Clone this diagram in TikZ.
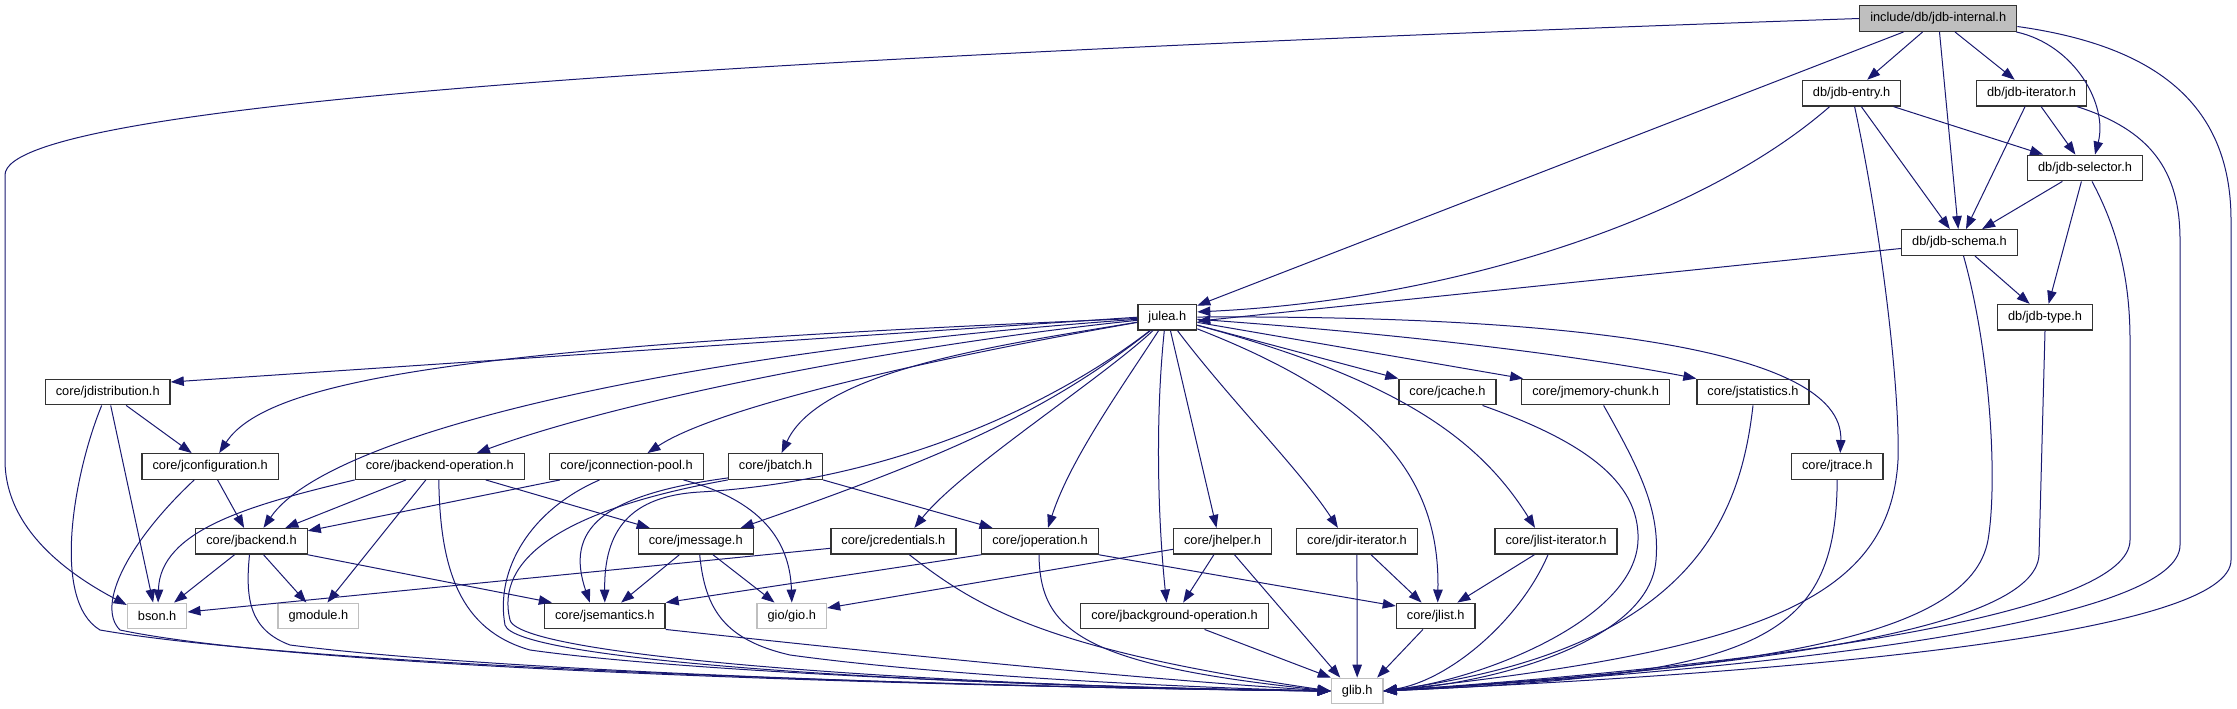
\documentclass[tikz,border=0pt]{standalone}
\usepackage{fontspec}
\setmainfont{Liberation Sans}
\usetikzlibrary{arrows.meta}
\definecolor{navy}{HTML}{191970}
\definecolor{boxgray}{HTML}{BFBFBF}
\definecolor{boxline}{HTML}{333333}
\tikzset{
  hbox/.style={draw=boxline, line width=1.3pt, fill=white, minimum height=25.6pt,
    inner xsep=10.5pt, inner ysep=0pt, font=\fontsize{12.8}{15}\selectfont},
  extbox/.style={hbox, draw=boxgray},
  rootbox/.style={hbox, fill=boxgray},
  dep/.style={draw=navy, line width=1pt, -{Triangle[length=13pt,width=9.5pt]}}
}
\begin{document}
\begin{tikzpicture}[x=1pt,y=-1pt]
\useasboundingbox (0,0) rectangle (2237,709);
% nodes
\node[rootbox] (internal) at (1938.2,18.5) {include/db/jdb-internal.h};
\node[hbox] (entry) at (1851.6,93.2) {db/jdb-entry.h};
\node[hbox] (iterator) at (2031.5,93.2) {db/jdb-iterator.h};
\node[hbox] (selector) at (2085,168) {db/jdb-selector.h};
\node[hbox] (schema) at (1959.5,242.5) {db/jdb-schema.h};
\node[hbox] (type) at (2045,317.3) {db/jdb-type.h};
\node[hbox] (julea) at (1167.3,317.2) {julea.h};
\node[hbox] (distribution) at (107.7,392) {core/jdistribution.h};
\node[hbox] (jcache) at (1447.5,392) {core/jcache.h};
\node[hbox] (jmemory) at (1595.6,392) {core/jmemory-chunk.h};
\node[hbox] (jstat) at (1753,392) {core/jstatistics.h};
\node[hbox] (jconfig) at (210.2,466.5) {core/jconfiguration.h};
\node[hbox] (jbackop) at (439.8,466.5) {core/jbackend-operation.h};
\node[hbox] (jconnpool) at (626.5,466.5) {core/jconnection-pool.h};
\node[hbox] (jbatch) at (775.6,466.5) {core/jbatch.h};
\node[hbox] (jtrace) at (1837.2,466.5) {core/jtrace.h};
\node[hbox] (jbackend) at (251.5,541.3) {core/jbackend.h};
\node[hbox] (jmessage) at (695.7,541.3) {core/jmessage.h};
\node[hbox] (jcred) at (893.4,541.3) {core/jcredentials.h};
\node[hbox] (joper) at (1040,541.3) {core/joperation.h};
\node[hbox] (jhelper) at (1222.5,541.3) {core/jhelper.h};
\node[hbox] (jdiriter) at (1356.9,541.3) {core/jdir-iterator.h};
\node[hbox] (jlistiter) at (1556,541.3) {core/jlist-iterator.h};
\node[extbox] (bson) at (157.1,616) {bson.h};
\node[extbox] (gmodule) at (318.4,616) {gmodule.h};
\node[hbox] (jsem) at (604.8,616) {core/jsemantics.h};
\node[extbox] (gio) at (791.8,616) {gio/gio.h};
\node[hbox] (jbgop) at (1174.5,616) {core/jbackground-operation.h};
\node[hbox] (jlist) at (1435.7,616) {core/jlist.h};
\node[extbox] (glib) at (1357.2,691) {glib.h};

% jdb-internal
\draw[dep] (internal.west) .. controls (800,55) and (5,100) .. (5,175) -- (5,460) .. controls (5,530) and (70,575) .. (bson.160);
\draw[dep] (internal) -- (julea);
\draw[dep] (internal) -- (entry);
\draw[dep] (internal) -- (schema);
\draw[dep] (internal) -- (iterator);
\draw[dep] ([xshift=-1pt]internal.south east) .. controls (2075,45) and (2108,105) .. ([xshift=10pt]selector.north);
\draw[dep] ([yshift=-8pt]internal.east) .. controls (2150,45) and (2231,100) .. (2231,220) -- (2231,560) .. controls (2231,630) and (1850,670) .. (glib.east);

% jdb-entry
\draw[dep] ([xshift=-22pt]entry.south) .. controls (1700,220) and (1450,300) .. (julea.10);
\draw[dep] (entry) -- (schema);
\draw[dep] (entry) -- (selector);
\draw[dep] ([xshift=3pt]entry.south) .. controls (1885,250) and (1900,400) .. (1898,460) .. controls (1890,600) and (1760,650) .. (glib.east);

% jdb-iterator
\draw[dep] (iterator) -- (schema);
\draw[dep] (iterator) -- (selector);
\draw[dep] ([xshift=-10pt]iterator.south east) .. controls (2150,130) and (2180,170) .. (2180,240) -- (2180,545) .. controls (2180,615) and (1850,664) .. (glib.east);

% jdb-selector
\draw[dep] (selector) -- (schema);
\draw[dep] (selector) -- (type);
\draw[dep] ([xshift=7pt]selector.south) .. controls (2118,230) and (2130,280) .. (2130,340) -- (2130,540) .. controls (2130,612) and (1800,662) .. (glib.east);

% jdb-schema
\draw[dep] (schema) -- ([yshift=-4pt]julea.east);
\draw[dep] (schema) -- (type);
\draw[dep] ([xshift=4pt]schema.south) .. controls (1990,350) and (1998,480) .. (1988,540) .. controls (1970,640) and (1750,668) .. (glib.east);

% jdb-type
\draw[dep] (type.south) -- (2039,555) .. controls (2035,630) and (1750,668) .. (glib.east);

% julea.h
\draw[dep] (julea.west) -- ([yshift=10pt]distribution.east);
\draw[dep] (julea) .. controls (500,345) and (270,375) .. ([xshift=9pt]jconfig.north);
\draw[dep] (julea) .. controls (700,350) and (330,430) .. ([xshift=12pt]jbackend.north);
\draw[dep] (julea) .. controls (900,345) and (620,400) .. ([xshift=37pt]jbackop.north);
\draw[dep] (julea) .. controls (950,355) and (720,405) .. ([xshift=21pt]jconnpool.north);
\draw[dep] (julea) .. controls (1000,345) and (820,370) .. ([xshift=6pt]jbatch.north);
\draw[dep] (julea) .. controls (1050,410) and (950,455) .. ([xshift=45pt]jmessage.north);
\draw[dep] (julea) .. controls (1060,400) and (900,480) .. (700,492) .. controls (630,496) and (604,530) .. (jsem.north);
\draw[dep] (julea) .. controls (1100,380) and (960,470) .. ([xshift=21pt]jcred.north);
\draw[dep] (julea) .. controls (1120,390) and (1070,460) .. ([xshift=8pt]joper.north);
\draw[dep] ([xshift=-3pt]julea.south) .. controls (1155,420) and (1158,520) .. ([xshift=-8pt]jbgop.north);
\draw[dep] (julea) -- ([xshift=-6pt]jhelper.north);
\draw[dep] (julea) .. controls (1230,400) and (1300,470) .. ([xshift=-19pt]jdiriter.north);
\draw[dep] (julea) .. controls (1380,400) and (1440,480) .. ([xshift=2pt]jlist.north);
\draw[dep] (julea) .. controls (1400,380) and (1480,440) .. ([xshift=-21pt]jlistiter.north);
\draw[dep] (julea) -- (jcache.north west);
\draw[dep] (julea) -- ([xshift=2pt]jmemory.north west);
\draw[dep] (julea) .. controls (1350,330) and (1550,350) .. (jstat.north west);
\draw[dep] (julea) .. controls (1550,315) and (1845,345) .. ([xshift=3pt]jtrace.north);

% jdistribution
\draw[dep] (distribution) -- (jconfig);
\draw[dep] ([xshift=3pt]distribution.south) -- ([xshift=-4pt]bson.north);
\draw[dep] ([xshift=-6pt]distribution.south) .. controls (75,470) and (50,600) .. (100,630) .. controls (300,665) and (900,686) .. (glib.west);

% jconfiguration
\draw[dep] (jconfig) -- (jbackend);
\draw[dep] ([xshift=-16pt]jconfig.south) .. controls (130,540) and (95,605) .. (120,630) .. controls (300,668) and (900,686) .. (glib.west);

% jbackend-operation
\draw[dep] (jbackop) -- (jbackend);
\draw[dep] (jbackop.south west) .. controls (250,505) and (160,530) .. ([xshift=1pt]bson.north);
\draw[dep] ([xshift=-14pt]jbackop.south) -- ([xshift=9pt]gmodule.north);
\draw[dep] (jbackop) -- (jmessage);
\draw[dep] ([xshift=-1pt]jbackop.south) .. controls (440,570) and (460,630) .. (530,650) .. controls (700,674) and (1100,688) .. (glib.west);

% jconnection-pool
\draw[dep] (jconnpool) -- ([yshift=-3pt]jbackend.north east);
\draw[dep] ([xshift=57pt]jconnpool.south) .. controls (760,500) and (790,540) .. (gio.north);
\draw[dep] ([xshift=-27pt]jconnpool.south) .. controls (530,510) and (495,570) .. (505,625) .. controls (515,660) and (900,685) .. (glib.west);

% jbatch
\draw[dep] (jbatch) -- (joper);
\draw[dep] ([yshift=2pt]jbatch.south west) .. controls (600,495) and (565,530) .. ([xshift=-15pt]jsem.north);
\draw[dep] (jbatch.south west) .. controls (560,510) and (495,560) .. (510,620) .. controls (520,660) and (1000,688) .. (glib.west);

% jmessage
\draw[dep] (jmessage) -- (jsem);
\draw[dep] (jmessage) -- (gio);
\draw[dep] ([xshift=4pt]jmessage.south) .. controls (705,610) and (725,640) .. (790,655) .. controls (950,677) and (1200,688) .. (glib.west);

% jbackend
\draw[dep] (jbackend) -- (bson);
\draw[dep] (jbackend) -- (gmodule);
\draw[dep] (jbackend.south east) -- ([xshift=8pt]jsem.north west);
\draw[dep] ([xshift=-2pt]jbackend.south) .. controls (245,600) and (250,630) .. (290,645) .. controls (500,672) and (1000,688) .. (glib.west);

% jcredentials
\draw[dep] ([yshift=-7pt]jcred.west) -- ([yshift=4pt]bson.east);
\draw[dep] ([xshift=16pt]jcred.south) .. controls (980,610) and (1050,650) .. (glib.west);

% joperation
\draw[dep] (joper.south west) -- (jsem.north east);
\draw[dep] (joper.south east) -- ([yshift=10pt]jlist.west);
\draw[dep] ([xshift=-1pt]joper.south) .. controls (1040,630) and (1080,665) .. (glib.west);

% jsemantics
\draw[dep] (jsem.south east) .. controls (900,655) and (1150,680) .. (glib.west);

% jhelper
\draw[dep] ([yshift=-8pt]jhelper.west) -- ([yshift=8pt]gio.east);
\draw[dep] (jhelper) -- (jbgop);
\draw[dep] ([xshift=12pt]jhelper.south) -- ([xshift=-17pt]glib.north);

% jdir-iterator
\draw[dep] (jdiriter) -- (glib);
\draw[dep] (jdiriter) -- (jlist);

% jbackground-operation, jlist
\draw[dep] ([xshift=30pt]jbgop.south) -- (glib.north west);
\draw[dep] (jlist) -- ([xshift=20pt]glib.north);

% jlist-iterator
\draw[dep] (jlistiter) -- (jlist);
\draw[dep] ([xshift=-8pt]jlistiter.south) .. controls (1520,620) and (1450,680) .. (glib.east);

% jcache, jmemory-chunk, jstatistics, jtrace
\draw[dep] ([xshift=35pt]jcache.south) .. controls (1580,440) and (1640,480) .. (1638,540) .. controls (1636,620) and (1480,680) .. (glib.east);
\draw[dep] ([xshift=8pt]jmemory.south) .. controls (1640,470) and (1660,510) .. (1656,560) .. controls (1650,640) and (1500,682) .. (glib.east);
\draw[dep] (jstat.south) .. controls (1740,520) and (1690,650) .. (glib.east);
\draw[dep] (jtrace.south) .. controls (1836,640) and (1760,675) .. (glib.east);
\end{tikzpicture}
\end{document}
